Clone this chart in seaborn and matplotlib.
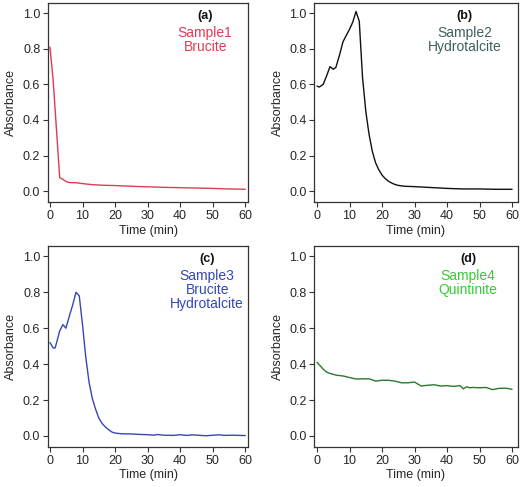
import matplotlib
matplotlib.use("Agg")
import matplotlib.pyplot as plt
import seaborn as sns
import pandas as pd

# Sample1 - Brucite
time_a = [0, 1, 3, 4, 5, 6, 8, 10, 13, 16, 20, 25, 30, 35, 40, 45, 50, 55, 60]
abs_a = [0.81, 0.62, 0.075, 0.066, 0.053, 0.048, 0.047, 0.042, 0.036, 0.033, 0.031, 0.027, 0.024, 0.021, 0.019, 0.017, 0.015, 0.012, 0.010]

# Sample2 - Hydrotalcite
time_b = [0, 0.7, 1.9, 3, 4, 5, 5.8, 7, 8, 9, 10, 11, 12, 13, 14, 15, 16, 17, 18, 19, 20,
          21, 22, 23, 24, 25, 27, 30, 35, 40, 45, 50, 55, 60]
abs_b = [0.59, 0.585, 0.60, 0.65, 0.70, 0.685, 0.695, 0.77, 0.84, 0.875, 0.91, 0.95, 1.01, 0.955, 0.64, 0.45, 0.32, 0.225, 0.16, 0.12, 0.09,
         0.07, 0.055, 0.045, 0.037, 0.032, 0.027, 0.025, 0.02, 0.015, 0.012, 0.012, 0.010, 0.010]

# Sample3 - Brucite + Hydrotalcite
time_c = [0, 1, 1.6, 3, 4, 4.9, 6, 7, 8, 9, 10, 11, 12, 13, 14, 15, 16, 17, 18, 19, 20,
          22, 25, 28, 30, 32, 33, 35, 38, 40, 42, 44, 46, 48, 50, 52, 54, 56, 58, 60]
abs_c = [0.52, 0.49, 0.49, 0.585, 0.62, 0.60, 0.67, 0.73, 0.80, 0.78, 0.62, 0.44, 0.30, 0.21, 0.15, 0.10, 0.07, 0.05, 0.035, 0.022, 0.016,
         0.012, 0.011, 0.008, 0.007, 0.004, 0.008, 0.004, 0.003, 0.007, 0.003, 0.006, 0.003, 0.001, 0.004, 0.006, 0.003, 0.004, 0.003, 0.002]

# Sample4 - Quintinite
time_d = [0, 1, 2, 3, 4, 5, 6, 8, 10, 12, 14, 16, 17, 18, 20, 22, 24, 26, 28, 30, 32, 34, 36, 38,
          40, 42, 44, 45, 46, 47, 48, 50, 52, 54, 56, 58, 60]
abs_d = [0.41, 0.39, 0.37, 0.355, 0.348, 0.343, 0.338, 0.334, 0.325, 0.317, 0.318, 0.318, 0.312, 0.305, 0.31, 0.31, 0.305, 0.296, 0.296, 0.30, 0.278, 0.282, 0.285, 0.278,
         0.28, 0.276, 0.28, 0.262, 0.274, 0.268, 0.27, 0.268, 0.27, 0.258, 0.265, 0.266, 0.26]

panels = [
    (time_a, abs_a, "(a)", "Sample1\nBrucite", "#e23a55", "#e23a55"),
    (time_b, abs_b, "(b)", "Sample2\nHydrotalcite", "#111111", "#3f5f5f"),
    (time_c, abs_c, "(c)", "Sample3\nBrucite\nHydrotalcite", "#3447b5", "#3447b5"),
    (time_d, abs_d, "(d)", "Sample4\nQuintinite", "#2a7a2a", "#33cc33"),
]

sns.set_theme(style="ticks")
plt.rcParams['font.family'] = ['Liberation Sans', 'DejaVu Sans']

fig = plt.figure(figsize=(5.2, 4.87), dpi=100)
# axes boxes in figure fractions: left, bottom, width, height
boxes = [
    [0.0923, 0.585, 0.385, 0.409],
    [0.604, 0.585, 0.392, 0.409],
    [0.0923, 0.082, 0.385, 0.413],
    [0.604, 0.082, 0.392, 0.413],
]
label_x = [0.785, 0.74, 0.795, 0.755]
xlims = [(-0.6, 60.9), (-0.9, 61.8), (-0.6, 60.9), (-0.9, 61.8)]

for box, (t, a, tag, name, lc, tc), lx, xl in zip(boxes, panels, label_x, xlims):
    ax = fig.add_axes(box)
    df = pd.DataFrame({"Time (min)": t, "Absorbance": a})
    sns.lineplot(data=df, x="Time (min)", y="Absorbance", ax=ax, color=lc, linewidth=1.0)
    ax.set_xlim(*xl)
    ax.set_ylim(-0.062, 1.058)
    ax.set_xticks([0, 10, 20, 30, 40, 50, 60])
    ax.set_yticks([0.0, 0.2, 0.4, 0.6, 0.8, 1.0])
    ax.set_yticklabels(["0.0", "0.2", "0.4", "0.6", "0.8", "1.0"])
    ax.tick_params(labelsize=9, length=3.5, width=0.8, color="#333333", pad=2)
    ax.set_xlabel("Time (min)", fontsize=9, labelpad=2)
    ax.set_ylabel("Absorbance", fontsize=9, labelpad=4)
    for s in ax.spines.values():
        s.set_visible(True)
        s.set_linewidth(0.9)
        s.set_color("#333333")
    ax.text(lx, 0.965, tag, transform=ax.transAxes, ha="center", va="top",
            fontsize=9, fontweight="bold", color="#111111")
    ax.text(lx, 0.885, name, transform=ax.transAxes, ha="center", va="top",
            fontsize=10, color=tc, linespacing=1.0)

fig.savefig("out.png", dpi=100)
